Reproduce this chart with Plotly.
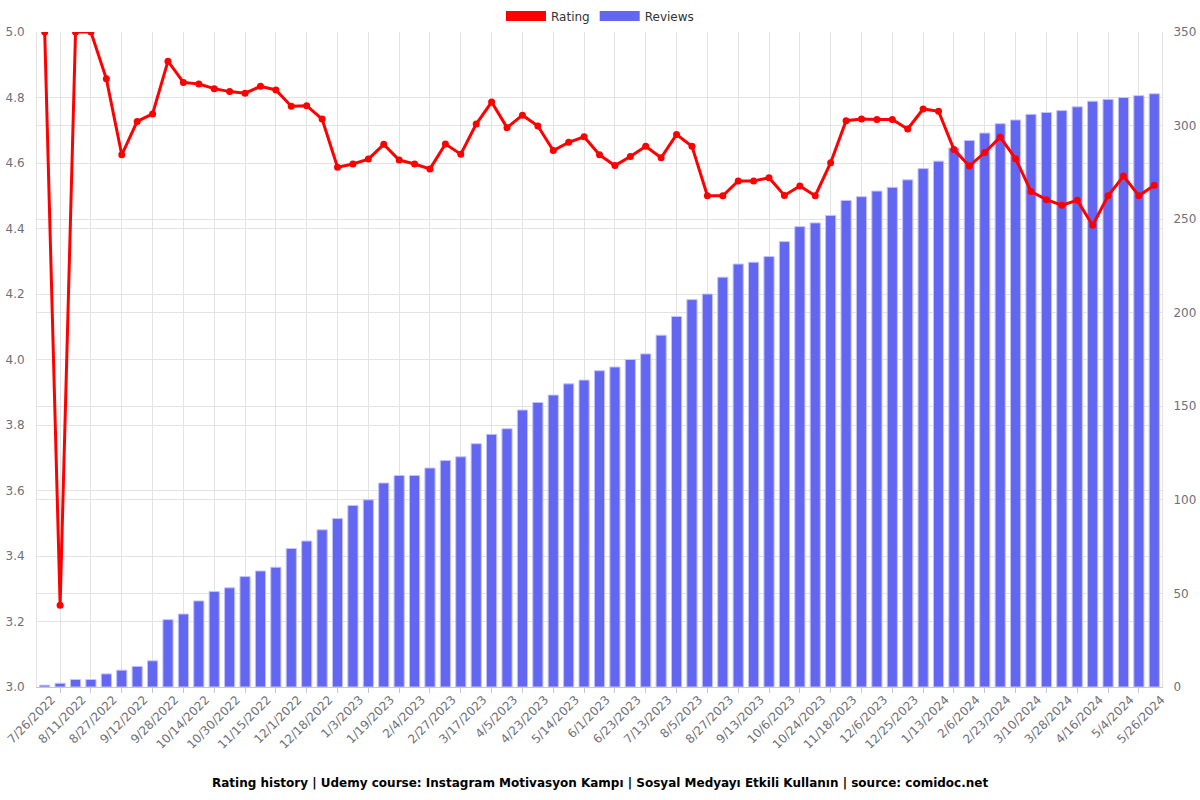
import plotly.graph_objects as go

dates = [
    "7/26/2022", "8/3/2022", "8/11/2022", "8/19/2022", "8/27/2022", "9/4/2022", "9/12/2022", "9/20/2022",
    "9/28/2022", "10/6/2022", "10/14/2022", "10/22/2022", "10/30/2022", "11/7/2022", "11/15/2022", "11/23/2022",
    "12/1/2022", "12/9/2022", "12/18/2022", "12/26/2022", "1/3/2023", "1/11/2023", "1/19/2023", "1/27/2023",
    "2/4/2023", "2/15/2023", "2/27/2023", "3/8/2023", "3/17/2023", "3/26/2023", "4/5/2023", "4/14/2023",
    "4/23/2023", "5/3/2023", "5/14/2023", "5/23/2023", "6/1/2023", "6/12/2023", "6/23/2023", "7/3/2023",
    "7/13/2023", "7/24/2023", "8/5/2023", "8/16/2023", "8/27/2023", "9/5/2023", "9/13/2023", "9/25/2023",
    "10/6/2023", "10/15/2023", "10/24/2023", "11/5/2023", "11/18/2023", "11/27/2023", "12/6/2023", "12/15/2023",
    "12/25/2023", "1/3/2024", "1/13/2024", "1/25/2024", "2/6/2024", "2/14/2024", "2/23/2024", "3/2/2024",
    "3/10/2024", "3/19/2024", "3/28/2024", "4/7/2024", "4/16/2024", "4/25/2024", "5/4/2024", "5/15/2024",
    "5/26/2024",
]

rating = [
    5.0, 3.25, 5.0, 5.0, 4.857, 4.625, 4.727, 4.75, 4.911, 4.846,
    4.841, 4.827, 4.818, 4.813, 4.834, 4.823, 4.773, 4.775, 4.734, 4.587,
    4.597, 4.612, 4.657, 4.609, 4.597, 4.582, 4.658, 4.627, 4.719, 4.786,
    4.708, 4.746, 4.713, 4.638, 4.663, 4.680, 4.625, 4.592, 4.620, 4.651,
    4.616, 4.687, 4.651, 4.500, 4.500, 4.545, 4.545, 4.555, 4.501, 4.530,
    4.500, 4.601, 4.729, 4.734, 4.733, 4.733, 4.704, 4.765, 4.758, 4.641,
    4.591, 4.632, 4.679, 4.613, 4.513, 4.488, 4.471, 4.486, 4.410, 4.500,
    4.560, 4.500, 4.532,
]

reviews = [
    1, 2, 4, 4, 7, 9, 11, 14, 36, 39,
    46, 51, 53, 59, 62, 64, 74, 78, 84, 90,
    97, 100, 109, 113, 113, 117, 121, 123, 130, 135,
    138, 148, 152, 156, 162, 164, 169, 171, 175, 178,
    188, 198, 207, 210, 219, 226, 227, 230, 238, 246,
    248, 252, 260, 262, 265, 267, 271, 277, 281, 288,
    292, 296, 301, 303, 306, 307, 308, 310, 313, 314,
    315, 316, 317,
]

rating_ticks = [3.0, 3.2, 3.4, 3.6, 3.8, 4.0, 4.2, 4.4, 4.6, 4.8, 5.0]
review_ticks = [0, 50, 100, 150, 200, 250, 300, 350]

title = ("Rating history | Udemy course: Instagram Motivasyon Kampı | "
         "Sosyal Medyayı Etkili Kullanın | source: comidoc.net")

RED = "#ff0000"
BLUE = "#6366f1"
GRID = "#e3e3e3"
LABEL = "#6e7079"
FONT = "DejaVu Sans"

idx = list(range(len(dates)))
label_idx = idx[::2]
grid_idx = idx[1::2]

fig = go.Figure()

fig.add_trace(go.Bar(
    x=idx, y=reviews, name="Reviews", yaxis="y", showlegend=False,
    marker=dict(color=BLUE, line=dict(color="#c3c4fa", width=1)),
    width=0.66,
))
fig.add_trace(go.Scatter(
    x=idx, y=rating, name="Rating", yaxis="y2", mode="lines+markers", showlegend=False,
    line=dict(color=RED, width=3), marker=dict(color=RED, size=7),
))
# legend entries (rectangle-like icons)
fig.add_trace(go.Scatter(x=[None], y=[None], name="Rating", mode="lines", yaxis="y2",
                         line=dict(color=RED, width=14)))
fig.add_trace(go.Scatter(x=[None], y=[None], name="Reviews", mode="lines", yaxis="y",
                         line=dict(color=BLUE, width=14)))

fig.update_layout(
    width=1200, height=800,
    margin=dict(l=37, r=38, t=32, b=113, autoexpand=False),
    paper_bgcolor="white", plot_bgcolor="white",
    font=dict(family=FONT, size=12, color=LABEL),
    xaxis=dict(
        range=[-0.5, len(dates) - 0.5], automargin=False, ticklabeloverflow="allow",
        tickmode="array", tickvals=label_idx, ticktext=dates[::2],
        tickangle=-45, showgrid=False, ticks="", zeroline=False,
        ticklabelshift=7,
        showline=True, linecolor="#c8c8c8", linewidth=1,
        tickfont=dict(size=12, color=LABEL),
        minor=dict(tickmode="array", tickvals=grid_idx, showgrid=True, gridcolor=GRID,
                   gridwidth=1, ticks="outside", ticklen=5, tickcolor="#c8c8c8"),
    ),
    yaxis=dict(
        side="right", range=[0, 350], tickvals=review_ticks, automargin=False,
        showgrid=True, gridcolor=GRID, zeroline=False,
        showline=True, linecolor=GRID, ticks="outside", ticklen=8,
        tickcolor="rgba(0,0,0,0)",
        tickfont=dict(size=12, color=LABEL),
    ),
    yaxis2=dict(
        side="left", overlaying="y", range=[3, 5], tickvals=rating_ticks, automargin=False,
        tickformat=".1f", showgrid=True, gridcolor=GRID, zeroline=False,
        showline=True, linecolor=GRID, ticks="outside", ticklen=9,
        tickcolor="rgba(0,0,0,0)", ticklabeloverflow="allow",
        tickfont=dict(size=12, color=LABEL),
    ),
    legend=dict(
        orientation="h", x=0.5, xanchor="center", xref="container",
        y=0.98, yanchor="middle", yref="container",
        font=dict(size=12, color="#333333"), itemwidth=40,
        bgcolor="rgba(0,0,0,0)",
    ),
    annotations=[dict(
        text="<b>" + title + "</b>", xref="paper", yref="paper",
        x=0.5, y=-0.1466, xanchor="center", yanchor="middle", showarrow=False,
        font=dict(family=FONT, size=12, color="#000000"),
    )],
)

fig.write_html("out.html")
